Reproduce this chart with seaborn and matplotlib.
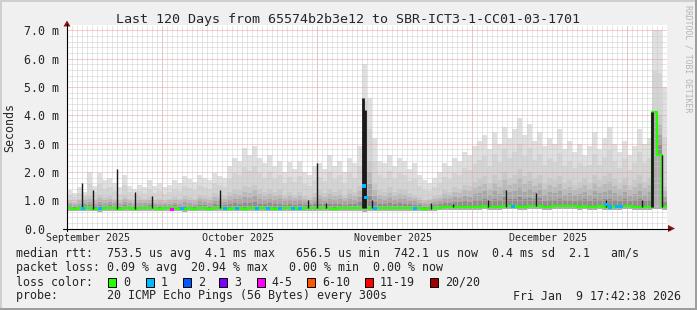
import numpy as np
import matplotlib
matplotlib.use("Agg")
import matplotlib.pyplot as plt
import seaborn as sns
from matplotlib.patches import Polygon, Rectangle
from matplotlib.lines import Line2D

# ---------------- data ----------------
days = list(range(120))  # days since start of the 120 day window

rtt_median = [
    0.72, 0.70, 0.71, 0.73, 0.72, 0.70, 0.69, 0.71, 0.73, 0.72, 0.70, 0.71, 0.72, 0.70, 0.71, 0.73, 0.72, 0.71, 0.70, 0.72,
    0.71, 0.72, 0.70, 0.69, 0.71, 0.70, 0.72, 0.71, 0.70, 0.72, 0.73, 0.71, 0.70, 0.72, 0.71, 0.70, 0.72, 0.73, 0.71, 0.72,
    0.72, 0.70, 0.71, 0.72, 0.71, 0.72, 0.70, 0.71, 0.73, 0.72, 0.71, 0.72, 0.71, 0.70, 0.71, 0.72, 0.71, 0.72, 0.73, 0.74,
    0.72, 0.71, 0.72, 0.71, 0.72, 0.71, 0.72, 0.71, 0.72, 0.71, 0.72, 0.70, 0.71, 0.72, 0.74, 0.76, 0.77, 0.75, 0.76, 0.77,
    0.76, 0.77, 0.76, 0.78, 0.77, 0.76, 0.77, 0.80, 0.79, 0.78, 0.77, 0.76, 0.78, 0.80, 0.79, 0.77, 0.76, 0.78, 0.79, 0.80,
    0.78, 0.79, 0.77, 0.78, 0.76, 0.77, 0.78, 0.76, 0.75, 0.76, 0.77, 0.79, 0.78, 0.77, 0.76, 0.75, 0.76, 4.10, 2.60, 0.75,
]
rtt_min = [
    0.62, 0.61, 0.62, 0.63, 0.62, 0.61, 0.60, 0.62, 0.63, 0.62, 0.61, 0.62, 0.62, 0.61, 0.62, 0.63, 0.62, 0.62, 0.61, 0.62,
    0.62, 0.63, 0.61, 0.60, 0.62, 0.61, 0.62, 0.62, 0.61, 0.63, 0.63, 0.62, 0.61, 0.62, 0.62, 0.61, 0.63, 0.63, 0.62, 0.62,
    0.62, 0.61, 0.62, 0.63, 0.62, 0.62, 0.61, 0.62, 0.63, 0.62, 0.62, 0.63, 0.62, 0.61, 0.62, 0.62, 0.62, 0.63, 0.63, 0.60,
    0.61, 0.62, 0.63, 0.62, 0.62, 0.62, 0.63, 0.62, 0.62, 0.61, 0.62, 0.61, 0.62, 0.63, 0.64, 0.66, 0.67, 0.66, 0.66, 0.67,
    0.66, 0.67, 0.66, 0.68, 0.67, 0.66, 0.67, 0.69, 0.68, 0.68, 0.67, 0.66, 0.68, 0.69, 0.69, 0.67, 0.66, 0.68, 0.69, 0.69,
    0.68, 0.69, 0.67, 0.68, 0.66, 0.67, 0.68, 0.66, 0.65, 0.66, 0.67, 0.69, 0.68, 0.67, 0.66, 0.65, 0.66, 0.70, 0.68, 0.66,
]
rtt_dense = [
    1.00, 0.95, 1.05, 1.10, 1.15, 1.05, 1.20, 1.10, 1.15, 1.05, 1.00, 1.15, 1.05, 1.00, 1.10, 1.05, 1.10, 1.00, 1.05, 1.00,
    1.05, 1.10, 1.05, 1.15, 1.10, 1.05, 1.20, 1.15, 1.10, 1.25, 1.20, 1.15, 1.30, 1.40, 1.35, 1.50, 1.45, 1.55, 1.40, 1.30,
    1.40, 1.30, 1.35, 1.20, 1.30, 1.20, 1.30, 1.15, 1.10, 1.25, 1.35, 1.25, 1.40, 1.30, 1.35, 1.20, 1.40, 1.30, 1.50, 3.20,
    2.40, 1.60, 1.35, 1.30, 1.45, 1.30, 1.40, 1.35, 1.25, 1.20, 1.10, 1.00, 1.05, 1.15, 1.20, 1.35, 1.30, 1.45, 1.40, 1.55,
    1.50, 1.65, 1.75, 1.85, 1.60, 1.90, 1.70, 2.00, 1.80, 1.90, 2.10, 1.85, 2.00, 1.75, 1.90, 1.60, 1.80, 1.70, 1.85, 1.60,
    1.70, 1.55, 1.65, 1.80, 1.60, 1.90, 1.70, 1.85, 1.95, 1.75, 1.60, 1.80, 1.55, 1.70, 1.90, 1.65, 1.80, 4.10, 4.00, 1.50,
]
rtt_max = [
    1.35, 1.25, 1.45, 1.30, 2.00, 1.50, 1.95, 1.70, 1.80, 1.60, 1.45, 1.90, 1.50, 1.40, 1.55, 1.45, 1.70, 1.50, 1.60, 1.45,
    1.55, 1.70, 1.60, 1.85, 1.75, 1.65, 1.90, 1.80, 1.70, 1.95, 1.85, 1.80, 2.20, 2.50, 2.40, 2.85, 2.60, 2.90, 2.50, 2.30,
    2.60, 2.20, 2.40, 2.00, 2.35, 2.10, 2.40, 2.00, 1.90, 2.20, 2.30, 2.10, 2.60, 2.20, 2.40, 2.00, 2.50, 2.30, 2.90, 5.80,
    4.60, 3.20, 2.40, 2.30, 2.60, 2.20, 2.50, 2.40, 2.10, 2.30, 1.90, 1.70, 1.60, 1.80, 2.00, 2.30, 2.20, 2.50, 2.40, 2.70,
    2.60, 2.90, 3.10, 3.30, 2.80, 3.40, 3.00, 3.60, 3.20, 3.50, 3.90, 3.30, 3.70, 3.10, 3.40, 2.90, 3.20, 3.00, 3.50, 2.80,
    3.10, 2.70, 3.00, 2.60, 2.90, 3.40, 2.80, 3.20, 3.60, 3.00, 2.70, 3.10, 2.60, 2.90, 3.50, 3.00, 3.20, 7.00, 7.00, 5.00,
]

# dense dark spikes (day, top rtt in ms)
spike_day = [3.0, 5.2, 10.0, 13.6, 17.0, 30.6, 48.2, 50.0, 51.8, 59.2, 59.6, 61.0, 72.8, 77.2, 84.2, 87.8, 93.8, 107.8, 115.0, 117.0, 119.0]
spike_top = [1.6, 1.35, 2.1, 1.3, 1.15, 1.35, 1.0, 2.3, 0.9, 4.6, 4.2, 1.0, 0.9, 0.85, 1.0, 1.35, 1.25, 1.0, 1.0, 4.1, 2.6]

# median samples with packet loss (day, rtt, loss class)
loss_day = [3.2, 6.6, 21.0, 23.0, 31.6, 34.0, 38.0, 40.2, 42.6, 45.2, 46.6, 59.4, 59.8, 61.6, 69.6, 89.2, 107.8, 108.6, 110.0, 110.8]
loss_rtt = [0.72, 0.70, 0.66, 0.70, 0.72, 0.70, 0.72, 0.72, 0.71, 0.72, 0.70, 1.50, 1.10, 0.72, 0.72, 0.78, 0.86, 0.76, 0.77, 0.77]
loss_cls = ["1", "1", "4-5", "1", "1", "1", "1", "1", "1", "1", "1", "1", "1", "1", "1", "1", "1", "1", "1", "1"]

month_line_day = [19.06, 50.06, 81.06, 112.06]
month_label_day = [4.2, 34.1, 65.2, 96.2]
month_labels = ["September 2025", "October 2025", "November 2025", "December 2025"]

y_ticks = [0, 1, 2, 3, 4, 5, 6, 7]
y_tick_labels = ["0.0", "1.0 m", "2.0 m", "3.0 m", "4.0 m", "5.0 m", "6.0 m", "7.0 m"]

loss_names = ["0", "1", "2", "3", "4-5", "6-10", "11-19", "20/20"]
loss_colors = ["#26ff00", "#00b8ff", "#0059ff", "#7e00ff", "#ff00ff", "#ff5500", "#ff0000", "#a10000"]

title = "Last 120 Days from 65574b2b3e12 to SBR-ICT3-1-CC01-03-1701"
stat_line1 = "median rtt:  753.5 us avg  4.1 ms max   656.5 us min  742.1 us now  0.4 ms sd  2.1   am/s"
stat_line2 = "packet loss: 0.09 % avg  20.94 % max   0.00 % min  0.00 % now"
stat_line3 = "loss color:"
stat_line4 = "probe:       20 ICMP Echo Pings (56 Bytes) every 300s"
stamp = "Fri Jan  9 17:42:38 2026"
watermark = "RRDTOOL / TOBI OETIKER"

# ---------------- drawing ----------------
W, H = 697, 310
sns.set_style("white")
plt.rcParams["font.family"] = ["DejaVu Sans Mono", "DejaVu Sans"]

fig = plt.figure(figsize=(W / 100, H / 100), dpi=100, facecolor="#f0f0f0")


def fx(x):
    return x / W


def fy(y):
    return 1 - y / H


X0, X1, YZ, YT, PPM = 67, 667, 228.5, 25, 28.3
ax = fig.add_axes([fx(X0), fy(YZ), (X1 - X0) / W, (YZ - YT) / H])
ax.set_facecolor("white")
ax.set_xlim(0, 120)
ax.set_ylim(0, (YZ - YT) / PPM)
for s in ax.spines.values():
    s.set_visible(False)

d = np.array(days, dtype=float)
med = np.array(rtt_median)
mn = np.array(rtt_min)
dn = np.array(rtt_dense)
mx = np.array(rtt_max)

# smoke: below median
ax.bar(d, med - mn, bottom=mn, width=1.0, align="edge", color="#acacac", linewidth=0, zorder=1)
# smoke: dense part above median (shaded from dark to light)
dense_cols = ["#8e8e8e", "#a6a6a6", "#b9b9b9", "#c9c9c9"]
for k, c in enumerate(dense_cols):
    lo = med + (dn - med) * k / len(dense_cols)
    hi = med + (dn - med) * (k + 1) / len(dense_cols)
    ax.bar(d, hi - lo, bottom=lo, width=1.0, align="edge", color=c, linewidth=0, zorder=1)
# smoke: sparse upper part
sparse_cols = ["#d4d4d4", "#e0e0e0"]
for k, c in enumerate(sparse_cols):
    lo = dn + (mx - dn) * k / len(sparse_cols)
    hi = dn + (mx - dn) * (k + 1) / len(sparse_cols)
    ax.bar(d, hi - lo, bottom=lo, width=1.0, align="edge", color=c, linewidth=0, zorder=1)

# median line
xs = list(days) + [120]
ys = list(rtt_median) + [rtt_median[-1]]
sns.lineplot(x=xs, y=ys, ax=ax, color="#26ff00", linewidth=1.6, drawstyle="steps-post",
             estimator=None, sort=False, zorder=4)

# spikes (dense dark smoke columns)
sp_base = [min(rtt_median[max(int(s) - 1, 0)], rtt_median[int(s)]) for s in spike_day]
sp_lw = [2.0 if t > 4 else 1.0 for t in spike_top]
ax.vlines(spike_day, sp_base, spike_top, colors="#1a1a1a", linewidth=sp_lw, zorder=4.5)

ax.scatter(loss_day, loss_rtt, marker="s", s=5,
           c=[loss_colors[loss_names.index(c)] for c in loss_cls], linewidths=0, zorder=5)

# grid
ax.set_xticks(month_line_day)
ax.set_xticklabels([])
ax.set_xticks(np.arange(0, 121, 1), minor=True)
ax.set_yticks(y_ticks)
ax.set_yticklabels(y_tick_labels)
ax.set_yticks(np.arange(0, 7.2, 0.2), minor=True)
ax.set_axisbelow(False)
ax.grid(which="minor", color="#c8c8c8", linewidth=0.72, linestyle=(0, (1, 1)), alpha=0.9)
ax.grid(which="major", color="#f09a9a", linewidth=0.72, linestyle=(0, (1, 1)))
ax.tick_params(axis="y", which="major", length=2, width=0.7, color="#e08080", pad=28.8, labelsize=8.4)
ax.tick_params(axis="y", which="minor", length=1.5, width=0.7, color="#a0a0a0")
ax.tick_params(axis="x", which="major", length=2, width=0.7, color="#e08080", pad=1)
ax.tick_params(axis="x", which="minor", length=0)
for lab in ax.get_yticklabels():
    lab.set_horizontalalignment("left")

for xd, lab in zip(month_label_day, month_labels):
    ax.text(xd, (YZ - 238) / (YZ - YT), lab, transform=ax.get_xaxis_transform(),
            ha="center", va="center", fontsize=7.2, clip_on=False)

# axes lines + arrows
fig.add_artist(Line2D([fx(X0), fx(X0)], [fy(231), fy(24)], color="black", lw=0.8))
fig.add_artist(Line2D([fx(63), fx(670)], [fy(YZ), fy(YZ)], color="black", lw=0.8))
fig.add_artist(Polygon([[fx(63.5), fy(26.5)], [fx(70.5), fy(26.5)], [fx(67), fy(20.5)]],
                       closed=True, facecolor="#8e1010", edgecolor="none"))
fig.add_artist(Polygon([[fx(668), fy(225)], [fx(668), fy(232)], [fx(675), fy(228.5)]],
                       closed=True, facecolor="#8e1010", edgecolor="none"))

# texts
fig.text(fx(348.5), fy(19), title, ha="center", va="center", fontsize=9.6)
fig.text(fx(10), fy(127.5), "Seconds", ha="center", va="center", rotation=90, fontsize=8.4)
fig.text(fx(688), fy(59), watermark, ha="center", va="center", rotation=270, fontsize=5.9, color="#b4b4b4")

fig.text(fx(16), fy(254), stat_line1, ha="left", va="center", fontsize=8.4)
fig.text(fx(16), fy(268), stat_line2, ha="left", va="center", fontsize=8.4)
fig.text(fx(16), fy(282), stat_line3, ha="left", va="center", fontsize=8.4)
fig.text(fx(16), fy(296), stat_line4, ha="left", va="center", fontsize=8.4)
fig.text(fx(681), fy(296), stamp, ha="right", va="center", fontsize=8.4)

sq_x = [108.3, 145.7, 182.7, 219.3, 256.7, 307.0, 365.0, 430.0]
for sx, name, col in zip(sq_x, loss_names, loss_colors):
    fig.add_artist(Rectangle((fx(sx), fy(287)), 8 / W, 9 / H, facecolor=col,
                             edgecolor="black", linewidth=0.7))
    fig.text(fx(sx + 15), fy(282), name, ha="left", va="center", fontsize=8.4)

# frame shading
fig.add_artist(Rectangle((0, fy(2)), 1, 2 / H, facecolor="#cfcfcf", edgecolor="none"))
fig.add_artist(Rectangle((0, 0), 2 / W, 1, facecolor="#cfcfcf", edgecolor="none"))
fig.add_artist(Rectangle((0, 0), 1, 2 / H, facecolor="#9e9e9e", edgecolor="none"))
fig.add_artist(Rectangle((fx(695), 0), 2 / W, 1, facecolor="#9e9e9e", edgecolor="none"))

fig.savefig("out.png", dpi=100, facecolor=fig.get_facecolor())
